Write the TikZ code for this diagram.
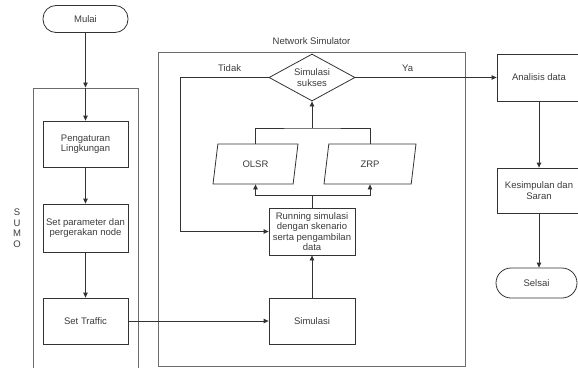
\documentclass[tikz,border=0pt]{standalone}
\usepackage{fontspec}
\setmainfont{Liberation Sans}
\usetikzlibrary{shapes.geometric, arrows.meta}

\begin{document}
\begin{tikzpicture}[x=1pt, y=-1pt, >={Triangle[length=5pt, width=4.5pt]}]
            \definecolor{garis}{rgb}{0.200,0.200,0.200}
            \definecolor{bingkaiw}{rgb}{0.420,0.420,0.420}
            \definecolor{teks}{rgb}{0.230,0.230,0.230}

            \tikzstyle{every node} = [font=\fontsize{9.5}{10.5}\selectfont, text=teks, align=center]
            \tikzstyle{kotak}  = [draw=garis, line width=0.8pt, inner sep=1pt, minimum width=85pt, minimum height=46pt]
            \tikzstyle{ujung}  = [draw=garis, line width=0.8pt, rounded corners=13pt, minimum width=85pt, minimum height=27pt]
            \tikzstyle{bingkai} = [draw=bingkaiw, line width=1pt, inner sep=0pt]
            \tikzstyle{keputusan} = [draw=garis, line width=0.8pt, diamond, aspect=1.83, inner sep=0pt, minimum width=86pt, minimum height=47pt]
            \tikzstyle{dataio} = [draw=garis, line width=0.8pt, trapezium, trapezium left angle=70, trapezium right angle=110, trapezium stretches body, minimum width=85pt, minimum height=40pt]
            \tikzstyle{alur} = [draw=garis, line width=0.8pt]

            \useasboundingbox (0,0) rectangle (578,367);
            \clip (0,0) rectangle (578,367);

            % SUMO
            \node[ujung] (mulai) at (85.5,19) {Mulai};
            \node[bingkai, minimum width=105pt, minimum height=286pt] (sumo) at (85.5,231) {};
            \node (sumolbl) at (17,228) {S\\U\\M\\O};
            \node[kotak] (atur) at (85.5,144) {Pengaturan\\Lingkungan};
            \node[kotak, minimum height=48pt] (param) at (85.5,228) {Set parameter dan\\pergerakan node};
            \node[kotak] (traffic) at (85.5,321) {Set Traffic};

            % Network Simulator
            \node[bingkai, minimum width=307pt, minimum height=314pt] (ns) at (311.5,209) {};
            \node (nslbl) at (311.5,41) {Network Simulator};
            \node[keputusan] (sukses) at (312,77.5) {Simulasi\\sukses};
            \node[dataio] (olsr) at (255.5,164) {OLSR};
            \node[dataio, minimum width=92pt] (zrp) at (370,164) {ZRP};
            \node[kotak, minimum width=86pt, minimum height=47pt, inner sep=0pt] (running) at (312,231.5) {Running simulasi\\dengan skenario\\serta pengambilan\\data};
            \node[kotak, minimum width=86pt] (simulasi) at (312,321) {Simulasi};
            \coordinate (pecah) at (312,195);
            \coordinate (gabung) at (312,128);
            \coordinate (ulang) at (180,231.5);

            % hasil
            \node[kotak, minimum width=84pt, minimum height=47pt] (analisis) at (539,77.5) {Analisis data};
            \node[kotak, minimum width=84pt, minimum height=45pt] (simpulan) at (539,190.5) {Kesimpulan dan\\Saran};
            \node[ujung, minimum width=81pt, minimum height=30pt, rounded corners=15pt] (selsai) at (536.5,283) {Selsai};

            \draw[alur, ->] (mulai) -- (sumo.north);
            \draw[alur, ->] (sumo.north) -- (atur);
            \draw[alur, ->] (atur) -- (param);
            \draw[alur, ->] (param) -- (traffic);
            \draw[alur, ->] (traffic) -- (simulasi);
            \draw[alur, ->] (simulasi) -- (running);
            \draw[alur] (running) -- (pecah);
            \draw[alur, ->] (pecah) -| (olsr);
            \draw[alur, ->] (pecah) -| (zrp);
            \draw[alur] (olsr) |- (gabung) -| (zrp);
            \draw[alur, ->] (gabung) -- (sukses);
            \draw[alur, ->] (sukses.west) -| (ulang) node[pos=0.22, above=2pt] (tidak) {Tidak} -- (running.west);
            \draw[alur, ->] (sukses.east) -- (analisis.west) node[pos=0.37, above=2pt] (ya) {Ya};
            \draw[alur, ->] (analisis) -- (simpulan);
            \draw[alur, ->] (simpulan.south) -- (simpulan.south |- selsai.north);
\end{tikzpicture}
\end{document}
